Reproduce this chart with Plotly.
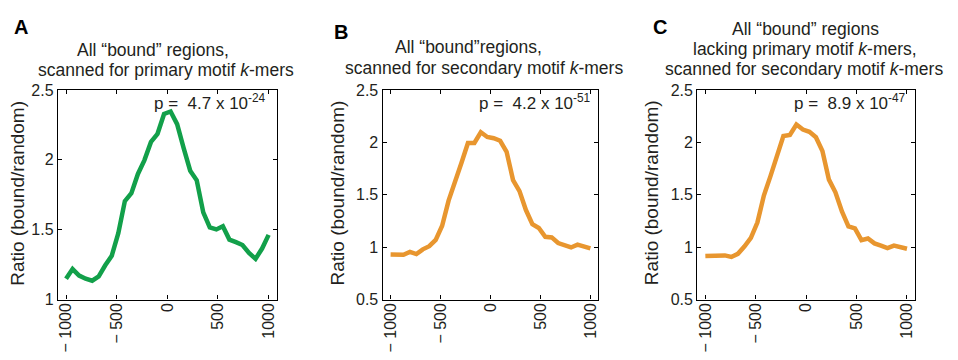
import numpy as np
import plotly.graph_objects as go

# ---- data ----
positions = np.linspace(-1000, 1000, 32).round(1).tolist()

ratio_primary = [1.149, 1.218, 1.172, 1.149, 1.135, 1.165, 1.245, 1.314, 1.475, 1.704,
                 1.761, 1.899, 1.998, 2.128, 2.186, 2.328, 2.346, 2.255, 2.083, 1.922,
                 1.853, 1.624, 1.516, 1.502, 1.525, 1.429, 1.411, 1.390, 1.333, 1.291,
                 1.365, 1.463]
ratio_secondary = [0.931, 0.934, 0.928, 0.955, 0.934, 0.979, 1.009, 1.069, 1.204, 1.444,
                   1.610, 1.805, 1.994, 1.994, 2.096, 2.051, 2.039, 2.015, 1.910, 1.640,
                   1.535, 1.354, 1.219, 1.183, 1.099, 1.093, 1.039, 1.015, 0.997, 1.024,
                   1.003, 0.988]
ratio_secondary_lacking = [0.915, 0.915, 0.915, 0.921, 0.906, 0.936, 1.006, 1.088, 1.234, 1.492,
                           1.675, 1.872, 2.061, 2.070, 2.170, 2.122, 2.100, 2.049, 1.918, 1.644,
                           1.523, 1.340, 1.198, 1.179, 1.067, 1.082, 1.036, 1.015, 0.991, 1.015,
                           1.000, 0.985]

x_tickvals = [-1000, -500, 0, 500, 1000]
x_ticktext = ["\u2212 1000", "\u2212 500", "0", "500", "1000"]
yticks_a = [1, 1.5, 2, 2.5]
yticks_bc = [0.5, 1, 1.5, 2, 2.5]
ytick_text_a = ["1", "1.5", "2", "2.5"]
ytick_text_bc = ["0.5", "1", "1.5", "2", "2.5"]

panel_letters = ["A", "B", "C"]
pvalues = ["p =  4.7 x 10<sup>-24</sup>", "p =  4.2 x 10<sup>-51</sup>", "p =  8.9 x 10<sup>-47</sup>"]
y_title = "Ratio (bound/random)"

GREEN = "#12a04a"
ORANGE = "#e8962f"
TXT = "#231f20"
FONT = "Liberation Sans, Arial, sans-serif"

W, H = 958, 360

def px(x):
    return x / W

def py(y):
    return 1 - y / H

# panel geometry (pixels)
panels = [
    dict(x0=57, x1=276, series=ratio_primary, color=GREEN, yr=[1, 2.5], yt=yticks_a, ytt=ytick_text_a,
         letter=(20, 20), ylab=17, pv=(267, 99)),
    dict(x0=382, x1=598, series=ratio_secondary, color=ORANGE, yr=[0.5, 2.5], yt=yticks_bc, ytt=ytick_text_bc,
         letter=(340, 25), ylab=337, pv=(593, 99)),
    dict(x0=697, x1=915, series=ratio_secondary_lacking, color=ORANGE, yr=[0.5, 2.5], yt=yticks_bc, ytt=ytick_text_bc,
         letter=(660, 20), ylab=652, pv=(908, 99)),
]
y_top, y_bot = 86, 306

titles = [
    [("All \u201cbound\u201d regions,", 152, 44), ("scanned for primary motif <i>k</i>-mers", 165, 65)],
    [("All \u201cbound\u201dregions,", 468, 41), ("scanned for secondary motif <i>k</i>-mers", 484, 63)],
    [("All \u201cbound\u201d regions", 805, 22), ("lacking primary motif <i>k</i>-mers,", 805, 43),
     ("scanned for secondary motif <i>k</i>-mers", 804, 64)],
]

fig = go.Figure()
annotations = []
for i, p in enumerate(panels):
    n = "" if i == 0 else str(i + 1)
    fig.add_trace(go.Scatter(x=positions, y=p["series"], mode="lines",
                             line=dict(color=p["color"], width=4.5),
                             xaxis="x" + n, yaxis="y" + n, showlegend=False))
    axis_common = dict(showline=True, linecolor="black", linewidth=1.3, mirror="ticks",
                       ticks="inside", ticklen=4, tickwidth=1, tickcolor="black",
                       showgrid=False, zeroline=False,
                       tickfont=dict(family=FONT, size=16, color=TXT))
    fig.update_layout(**{
        "xaxis" + n: dict(domain=[px(p["x0"]), px(p["x1"])], range=[-1080, 1080],
                          tickvals=x_tickvals, ticktext=x_ticktext, tickangle=-90,
                          ticklabelstandoff=-4,
                          anchor="y" + n, **axis_common),
        "yaxis" + n: dict(domain=[py(y_bot), py(y_top)], range=p["yr"],
                          tickvals=p["yt"], ticktext=p["ytt"],
                          anchor="x" + n, **axis_common),
    })
    annotations.append(dict(text="<b>%s</b>" % panel_letters[i], x=px(p["letter"][0]), y=py(p["letter"][1]),
                            xref="paper", yref="paper", showarrow=False, xanchor="center", yanchor="middle",
                            font=dict(family=FONT, size=20, color="black")))
    annotations.append(dict(text=y_title, x=px(p["ylab"]), y=py((y_top + y_bot) / 2 - 2),
                            xref="paper", yref="paper", showarrow=False, textangle=-90,
                            xanchor="center", yanchor="middle",
                            font=dict(family=FONT, size=19, color=TXT)))
    annotations.append(dict(text=pvalues[i], x=px(p["pv"][0]), y=py(p["pv"][1]),
                            xref="paper", yref="paper", showarrow=False,
                            xanchor="right", yanchor="middle",
                            font=dict(family=FONT, size=17, color=TXT)))
    for (t, cx, cy) in titles[i]:
        annotations.append(dict(text=t, x=px(cx), y=py(cy), xref="paper", yref="paper",
                                showarrow=False, xanchor="center", yanchor="middle",
                                font=dict(family=FONT, size=17.5, color=TXT)))

fig.update_layout(width=W, height=H, margin=dict(l=0, r=0, t=0, b=0),
                  paper_bgcolor="white", plot_bgcolor="white",
                  annotations=annotations, showlegend=False)

fig.write_html("out.html", config={"displayModeBar": False},
               post_script="document.body.style.margin='0px';document.body.style.overflow='hidden';")
